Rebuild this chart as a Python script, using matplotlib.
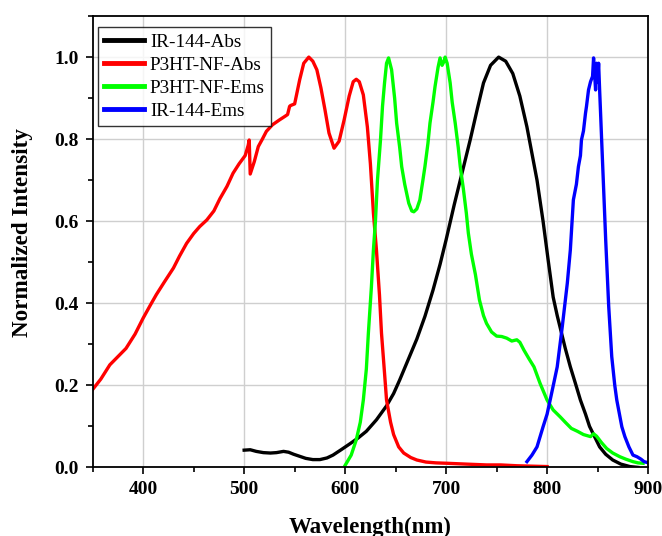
import numpy as np
import matplotlib
matplotlib.use("Agg")
import matplotlib.pyplot as plt
from matplotlib.ticker import MultipleLocator

# data (wavelength nm, normalized intensity)
ir_abs_x = [500, 506, 512, 519, 526, 532, 539, 544, 549, 555, 561, 568, 575, 582, 588,
            596, 605, 613, 621, 631, 641, 648, 654, 662, 671, 679, 687, 694, 700, 708,
            716, 724, 731, 737, 744, 752, 759, 766, 773, 780, 785, 790, 796, 801, 806,
            810, 814, 818, 823, 828, 833, 838, 842, 847, 852, 858, 865, 873, 882, 890]
ir_abs_y = [0.042, 0.043, 0.039, 0.036, 0.035, 0.036, 0.039, 0.037, 0.032, 0.027, 0.022,
            0.019, 0.019, 0.023, 0.030, 0.043, 0.058, 0.072, 0.088, 0.116, 0.150, 0.180,
            0.213, 0.260, 0.313, 0.368, 0.432, 0.495, 0.555, 0.640, 0.720, 0.800, 0.875,
            0.937, 0.980, 1.000, 0.990, 0.960, 0.905, 0.830, 0.765, 0.700, 0.600, 0.506,
            0.415, 0.370, 0.330, 0.290, 0.245, 0.205, 0.164, 0.130, 0.100, 0.075, 0.050,
            0.032, 0.018, 0.008, 0.002, 0.0]

p3_abs_x = [350, 358, 367, 375, 383, 392, 400, 407, 413, 421, 430, 436, 443, 450, 456,
            463, 470, 476, 483, 489, 495, 501, 504, 505, 506, 510, 514, 518, 522, 528,
            535, 540, 543, 545, 546, 550, 555, 559, 564, 568, 572, 576, 580, 584, 589,
            594, 599, 604, 608, 611, 614, 618, 622, 625, 628, 631, 634, 636, 639, 641,
            645, 648, 653, 658, 665, 671, 680, 690, 701, 720, 740, 754, 770, 785, 800]
p3_abs_y = [0.190, 0.215, 0.250, 0.270, 0.290, 0.325, 0.364, 0.395, 0.421, 0.452, 0.486,
            0.515, 0.546, 0.570, 0.587, 0.603, 0.625, 0.655, 0.685, 0.717, 0.740, 0.760,
            0.785, 0.798, 0.715, 0.745, 0.782, 0.800, 0.819, 0.835, 0.847, 0.855, 0.860,
            0.880, 0.882, 0.886, 0.945, 0.985, 1.000, 0.990, 0.969, 0.925, 0.872, 0.815,
            0.778, 0.795, 0.847, 0.905, 0.940, 0.946, 0.940, 0.908, 0.830, 0.740, 0.620,
            0.530, 0.420, 0.327, 0.230, 0.164, 0.110, 0.080, 0.050, 0.035, 0.024, 0.018,
            0.013, 0.011, 0.010, 0.008, 0.006, 0.006, 0.004, 0.003, 0.002]

p3_ems_x = [600, 606, 611, 615, 618, 621, 623, 626, 628, 630, 632, 635, 637, 639, 641,
            643, 646, 649, 651, 654, 656, 659, 663, 666, 668, 671, 674, 677, 679, 682,
            684, 687, 689, 692, 694, 696, 698, 699, 701, 704, 706, 709, 712, 714, 717,
            720, 722, 725, 729, 733, 737, 740, 745, 750, 755, 760, 765, 770, 773, 777,
            782, 787, 793, 800, 806, 813, 818, 824, 830, 836, 843, 846, 849, 854, 859,
            865, 872, 878, 885, 890, 895]
p3_ems_y = [0.005, 0.030, 0.067, 0.110, 0.164, 0.240, 0.327, 0.440, 0.530, 0.600, 0.700,
            0.798, 0.880, 0.937, 0.985, 0.998, 0.969, 0.900, 0.839, 0.780, 0.733, 0.690,
            0.644, 0.625, 0.623, 0.630, 0.652, 0.700, 0.733, 0.790, 0.839, 0.890, 0.928,
            0.975, 0.998, 0.980, 0.990, 1.000, 0.985, 0.937, 0.890, 0.839, 0.780, 0.733,
            0.680, 0.620, 0.571, 0.520, 0.470, 0.408, 0.370, 0.351, 0.330, 0.320, 0.319,
            0.315, 0.308, 0.311, 0.305, 0.286, 0.265, 0.245, 0.205, 0.164, 0.140, 0.123,
            0.110, 0.095, 0.088, 0.080, 0.075, 0.082, 0.076, 0.060, 0.046, 0.035, 0.026,
            0.020, 0.014, 0.011, 0.010]

ir_ems_x = [780, 785, 790, 796, 800, 803, 807, 810, 815, 820, 823, 826, 829, 831, 833,
            834, 836, 838, 839, 841, 843, 845, 846, 847, 848, 849, 850, 851, 852, 853,
            854, 856, 858, 861, 864, 867, 869, 872, 874, 877, 881, 885, 889, 893, 896,
            899]
ir_ems_y = [0.014, 0.030, 0.050, 0.099, 0.130, 0.164, 0.210, 0.245, 0.343, 0.449, 0.530,
            0.652, 0.690, 0.733, 0.760, 0.798, 0.820, 0.863, 0.880, 0.920, 0.940, 0.953,
            0.998, 0.960, 0.920, 0.985, 0.940, 0.985, 0.920, 0.860, 0.798, 0.677, 0.555,
            0.392, 0.270, 0.200, 0.164, 0.125, 0.099, 0.075, 0.050, 0.030, 0.026, 0.020,
            0.014, 0.012]

names = ["IR-144-Abs", "P3HT-NF-Abs", "P3HT-NF-Ems", "IR-144-Ems"]
colors = ["#000000", "#ff0000", "#00ff00", "#0000ff"]

plt.rcParams['font.family'] = ['Liberation Serif', 'DejaVu Serif']

fig = plt.figure(figsize=(6.62, 5.36), dpi=100)
ax = fig.add_axes([0.140, 0.128, 0.839, 0.842])

series = [(ir_abs_x, ir_abs_y), (p3_abs_x, p3_abs_y), (p3_ems_x, p3_ems_y), (ir_ems_x, ir_ems_y)]
for (xs, ys), name, c in zip(series, names, colors):
    ax.plot(xs, ys, color=c, lw=2.4, label=name, solid_joinstyle='round')

ax.set_xlim(350, 900)
ax.set_ylim(0, 1.1)
ax.xaxis.set_major_locator(MultipleLocator(100))
ax.xaxis.set_minor_locator(MultipleLocator(50))
ax.yaxis.set_major_locator(MultipleLocator(0.2))
ax.yaxis.set_minor_locator(MultipleLocator(0.1))
ax.set_xticks([400, 500, 600, 700, 800, 900])
ax.set_yticks([0.0, 0.2, 0.4, 0.6, 0.8, 1.0])
ax.set_yticklabels(["0.0", "0.2", "0.4", "0.6", "0.8", "1.0"])
ax.grid(True, which='major', color='#cfcfcf', lw=1.0)
ax.set_axisbelow(True)
ax.tick_params(which='major', direction='out', length=5, width=1.2, labelsize=14, pad=5)
ax.tick_params(which='minor', direction='out', length=3.5, width=1.2)
for lab in ax.get_xticklabels() + ax.get_yticklabels():
    lab.set_fontweight('bold')
for s in ax.spines.values():
    s.set_linewidth(1.3)

ax.set_xlabel("Wavelength(nm)", fontsize=16.5, fontweight='bold', labelpad=13)
ax.set_ylabel("Normalized Intensity", fontsize=16.7, fontweight='bold')
ax.yaxis.set_label_coords(-0.108, 0.521)

leg = ax.legend(loc='upper left', bbox_to_anchor=(0.01, 0.975), fontsize=13.8,
                frameon=True, fancybox=False, edgecolor='black', handlelength=2.1,
                handletextpad=0.3, borderpad=0.3, labelspacing=0.3, borderaxespad=0.0)
leg.get_frame().set_linewidth(1.0)
for line in leg.get_lines():
    line.set_linewidth(3.5)

fig.savefig("out.png", dpi=100)
